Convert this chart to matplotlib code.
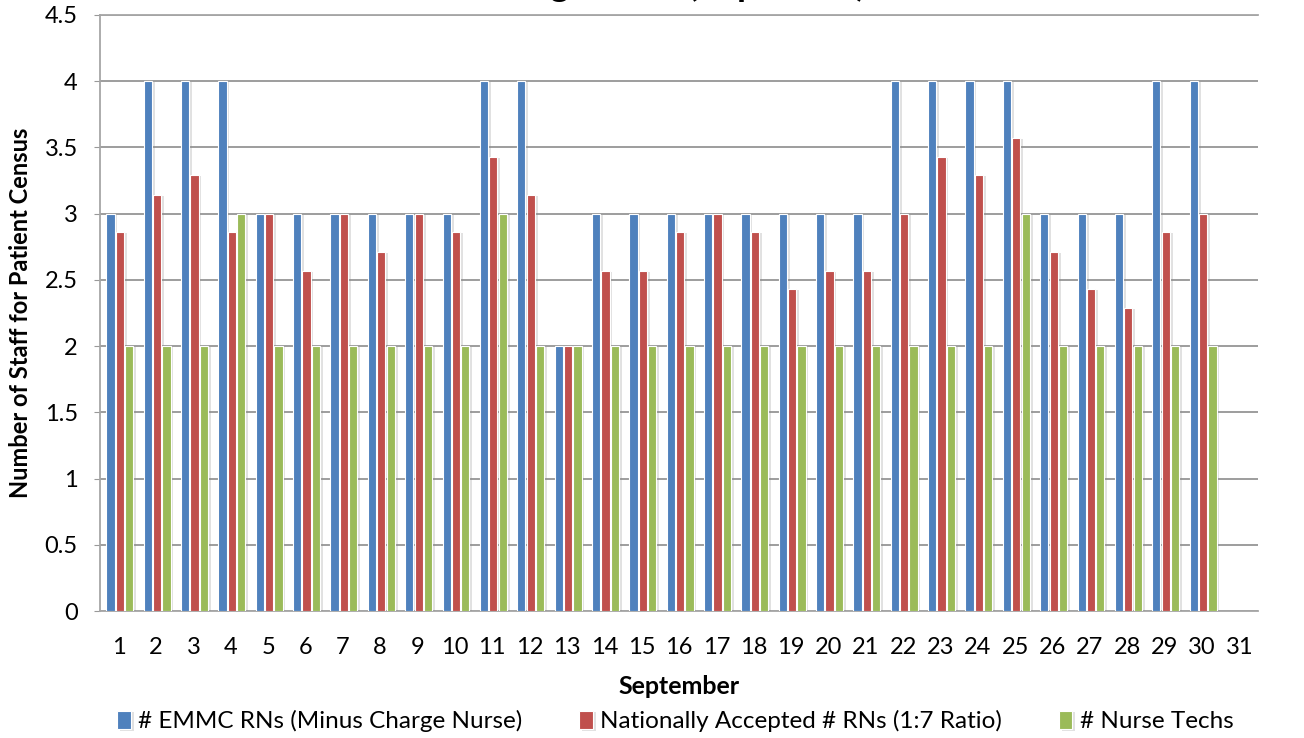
import numpy as np
import matplotlib.pyplot as plt
import matplotlib.patheffects as pe

# ── Data ────────────────────────────────────────────────────────────────────
days = list(range(1, 32))
emmc_rns = [3, 4, 4, 4, 3, 3, 3, 3, 3, 3, 4, 4, 2, 3, 3, 3, 3, 3, 3, 3,
            3, 4, 4, 4, 4, 3, 3, 3, 4, 4, np.nan]
national_rns = [2.86, 3.14, 3.29, 2.86, 3.0, 2.57, 3.0, 2.71, 3.0, 2.86,
                3.43, 3.14, 2.0, 2.57, 2.57, 2.86, 3.0, 2.86, 2.43, 2.57,
                2.57, 3.0, 3.43, 3.29, 3.57, 2.71, 2.43, 2.29, 2.86, 3.0, np.nan]
nurse_techs = [2, 2, 2, 3, 2, 2, 2, 2, 2, 2, 3, 2, 2, 2, 2, 2, 2, 2, 2, 2,
               2, 2, 2, 2, 3, 2, 2, 2, 2, 2, np.nan]

series_names = ['# EMMC RNs (Minus Charge Nurse)',
                'Nationally Accepted # RNs (1:7 Ratio)',
                '# Nurse Techs']
colors = ['#4F81BD', '#C0504D', '#9BBB59']

plt.rcParams['font.family'] = ['Lato', 'DejaVu Sans']

fig = plt.figure(figsize=(13.04, 7.38), dpi=100)
ax = fig.add_axes([0.0767, 0.172, 0.888, 0.808])

x = np.arange(len(days))
width = 0.22
offsets = [-0.25, 0.0, 0.25]
shadow = [pe.SimplePatchShadow(offset=(2, -1), shadow_rgbFace='#888888', alpha=0.25),
          pe.Normal()]

for vals, off, col, name in zip([emmc_rns, national_rns, nurse_techs], offsets, colors, series_names):
    bars = ax.bar(x + off + 0.03, vals, width, color=col, edgecolor='white',
                  linewidth=0.8, label=name, zorder=3)
    for b in bars:
        b.set_path_effects(shadow)

ax.set_xlim(-0.5, len(days) - 0.5)
ax.set_ylim(0, 4.5)
ax.set_yticks(np.arange(0, 4.51, 0.5))
ax.set_yticklabels(['0', '0.5', '1', '1.5', '2', '2.5', '3', '3.5', '4', '4.5'])
ax.set_xticks(x)
ax.set_xticklabels([str(d) for d in days])
ax.tick_params(axis='x', labelsize=17, length=0, pad=19)
ax.tick_params(axis='y', labelsize=17, length=4, color='#999999', pad=12)

ax.grid(axis='y', color='#8c8c8c', linewidth=1.2, zorder=0)
ax.set_axisbelow(True)
for side in ['left', 'bottom', 'top']:
    ax.spines[side].set_color('#a6a6a6')
    ax.spines[side].set_linewidth(1.3)
ax.spines['right'].set_visible(False)

ax.set_ylabel('Number of Staff for Patient Census', fontsize=17, fontweight='bold', labelpad=9)
ax.set_xlabel('September', fontsize=18, fontweight='bold', labelpad=12)

# title is mostly cut off above the image edge, only descenders show
fig.text(866 / 1304, 1 + 4 / 738, 'Staffing Levels (Sept 1-30)', ha='right', va='baseline',
         fontsize=26, fontweight='bold')

handles, labels = ax.get_legend_handles_labels()
fig.legend(handles, labels, loc='lower center', ncol=3, frameon=False, fontsize=17.5,
           handlelength=0.55, handleheight=0.8, handletextpad=0.3, columnspacing=2.35,
           bbox_to_anchor=(0.518, -0.022))

fig.savefig('out.png', dpi=100)
